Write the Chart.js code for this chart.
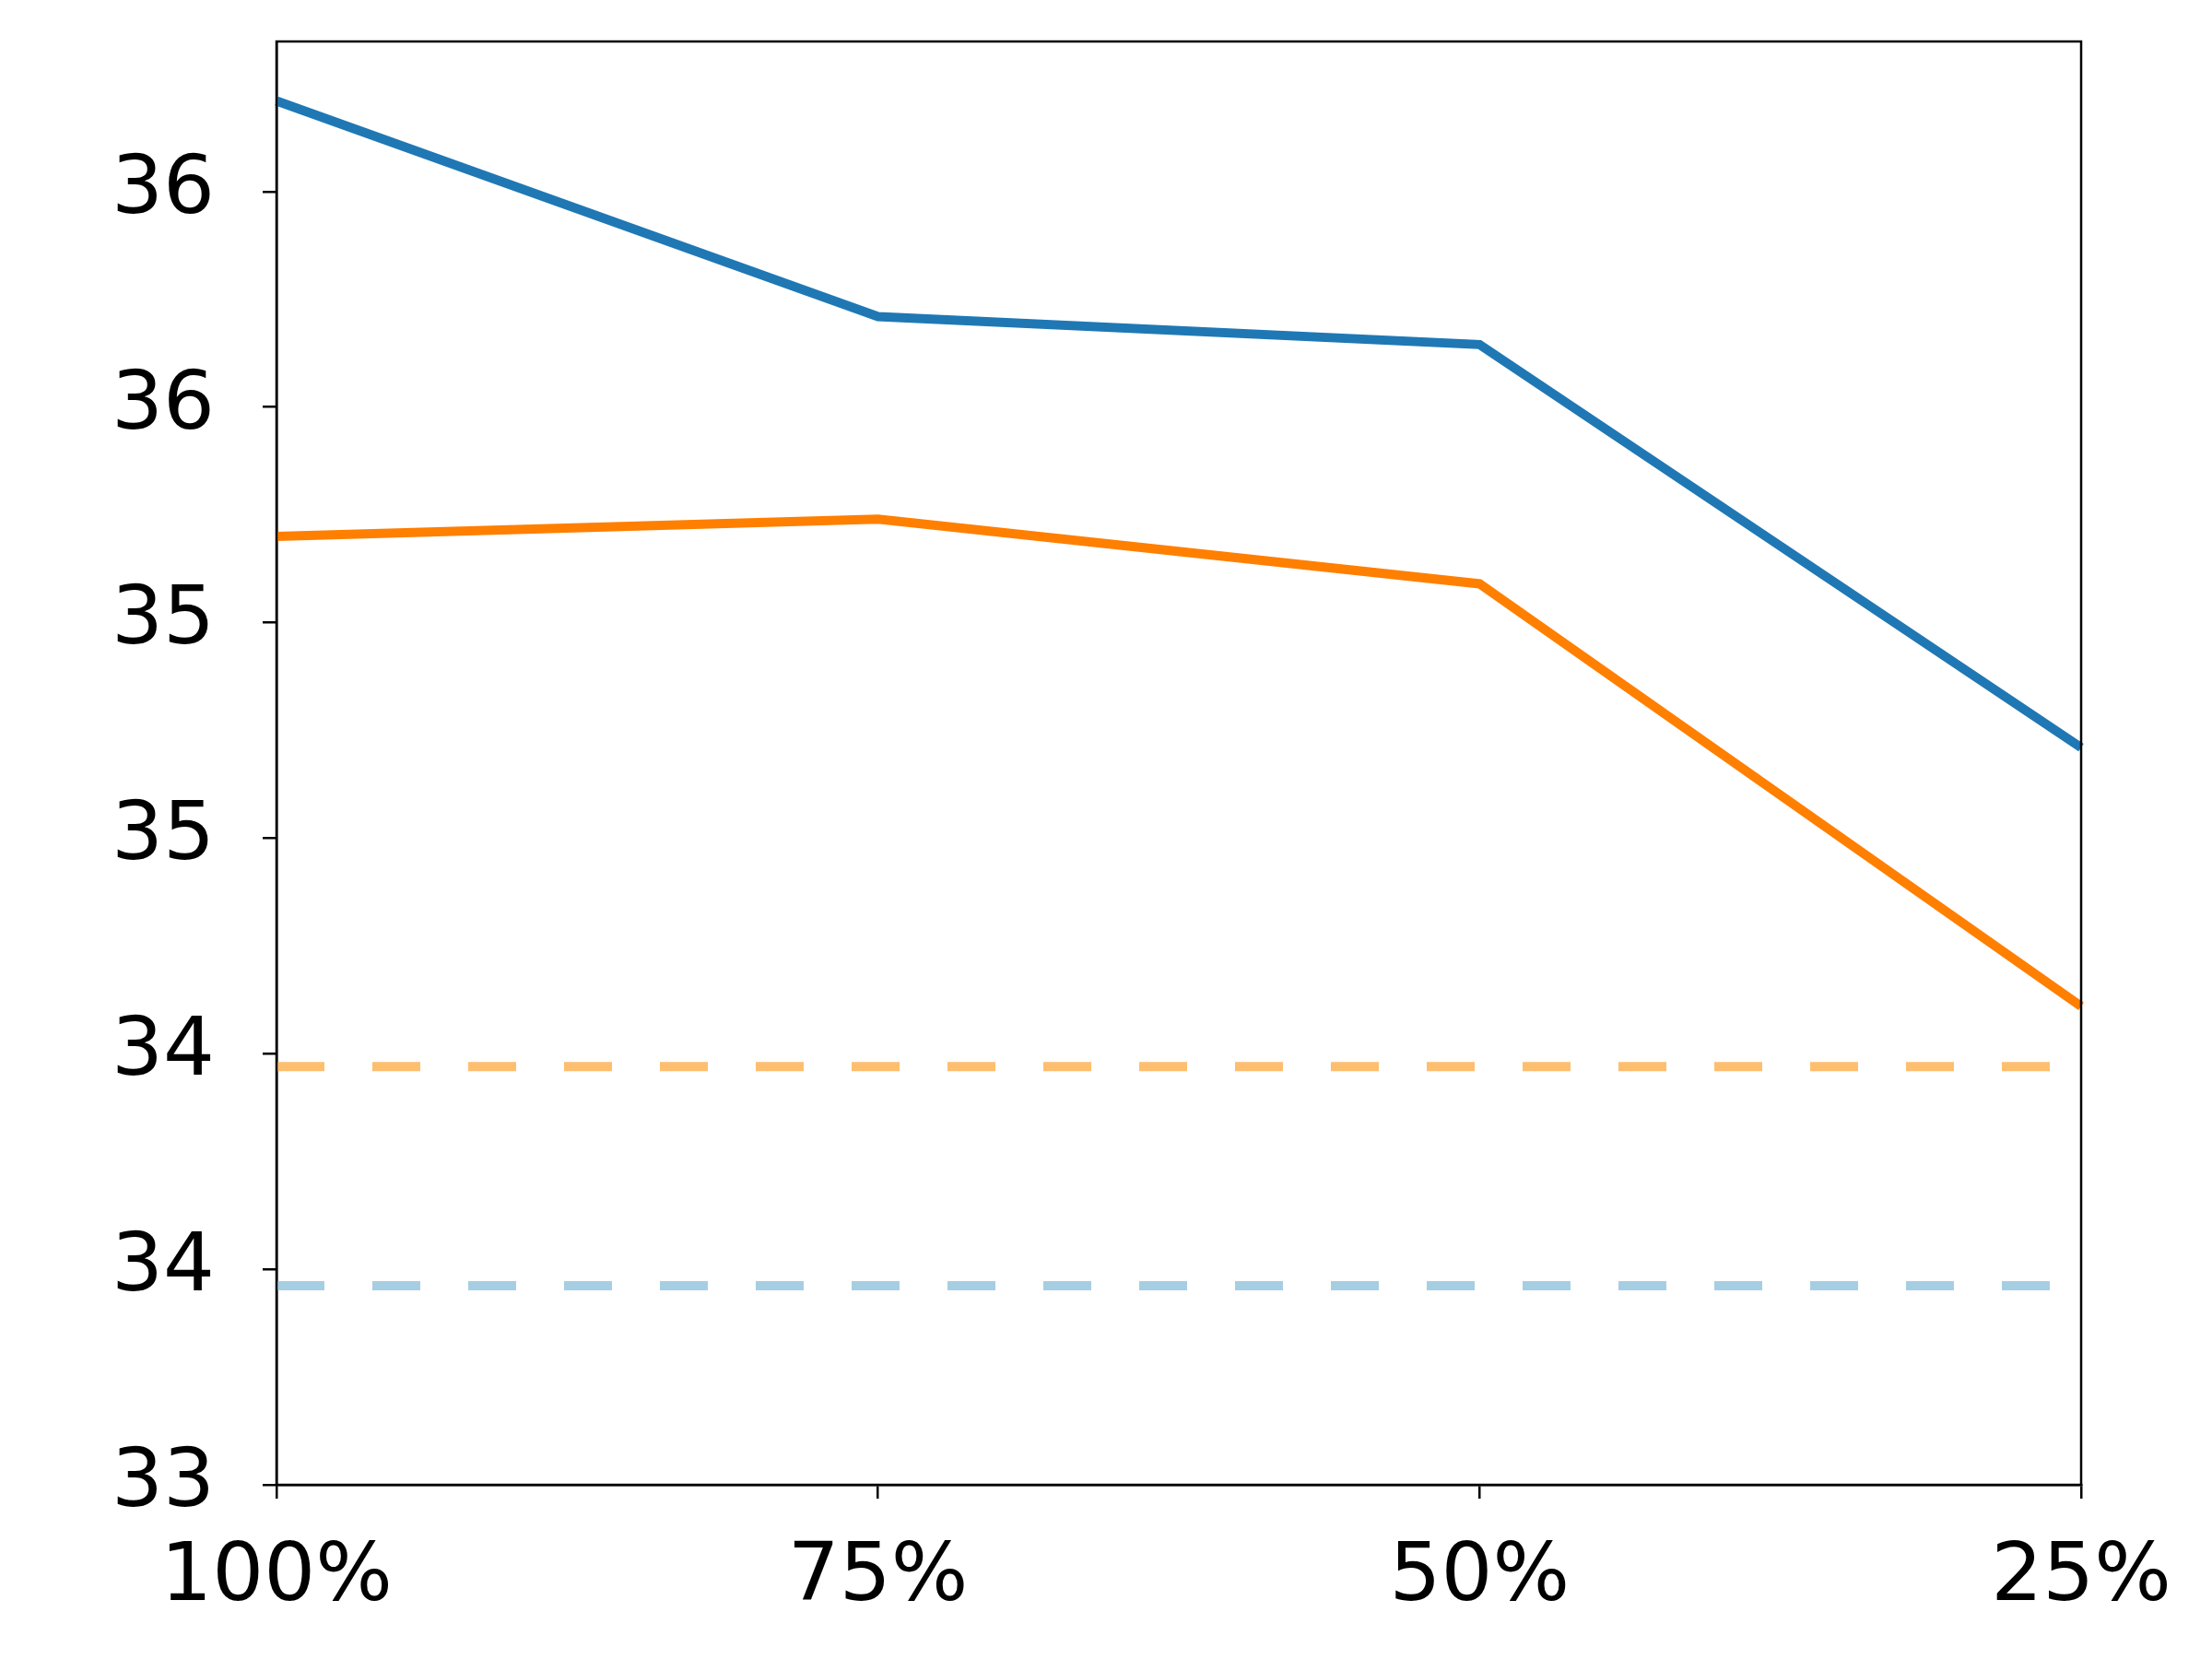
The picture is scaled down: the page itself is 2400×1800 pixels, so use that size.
<!DOCTYPE html>
<html>
<head>
<meta charset="utf-8">
<title>chart</title>
<script src="https://cdn.jsdelivr.net/npm/chart.js@4.4.1/dist/chart.umd.min.js"></script>
<style>
  html, body { margin: 0; padding: 0; background: #fff; }
  canvas { display: block; }
</style>
</head>
<body>
<canvas id="myChart" width="2400" height="1800"></canvas>
<script>
// data
const categories = ['100%', '75%', '50%', '25%'];
const blueSeries = [36.21, 35.71, 35.645, 34.71];
const orangeSeries = [35.2, 35.24, 35.09, 34.11];
const orangeBaseline = [33.97, 33.97, 33.97, 33.97];
const blueBaseline = [33.462, 33.462, 33.462, 33.462];
const yTickValues = [33, 33.5, 34, 34.5, 35, 35.5, 36];
const yTickLabels = ['33', '34', '34', '35', '35', '36', '36'];

const frame = {
  id: 'frame',
  afterDraw(chart) {
    const a = chart.chartArea;
    const c = chart.ctx;
    c.save();
    c.strokeStyle = '#000';
    c.lineWidth = 2.5;
    c.strokeRect(a.left, a.top, a.right - a.left, a.bottom - a.top);
    c.restore();
  },
};

// keep the axes from adding their own label padding to the layout
function noPad(scale) {
  scale.paddingTop = 0;
  scale.paddingBottom = 0;
  scale.paddingLeft = 0;
  scale.paddingRight = 0;
}

const ctx = document.getElementById('myChart').getContext('2d');
const myChart = new Chart(ctx, {
  type: 'line',
  data: {
    labels: categories,
    datasets: [
      {
        data: orangeBaseline,
        borderColor: '#fdbf6f',
        borderWidth: 10,
        borderDash: [52, 52],
        pointRadius: 0,
      },
      {
        data: blueBaseline,
        borderColor: '#a6cee3',
        borderWidth: 10,
        borderDash: [52, 52],
        pointRadius: 0,
      },
      {
        data: orangeSeries,
        borderColor: '#ff7f00',
        borderWidth: 10,
        pointRadius: 0,
      },
      {
        data: blueSeries,
        borderColor: '#1f78b4',
        borderWidth: 10,
        pointRadius: 0,
      },
    ],
  },
  options: {
    responsive: false,
    devicePixelRatio: 1,
    animation: false,
    layout: { padding: { top: 45, right: 142, left: 0, bottom: 0 } },
    plugins: { legend: { display: false }, tooltip: { enabled: false } },
    scales: {
      x: {
        type: 'category',
        offset: false,
        afterFit: (scale) => { scale.height = 189; noPad(scale); },
        grid: { drawOnChartArea: false, drawTicks: true, tickLength: 15, color: '#000', lineWidth: 2.5 },
        border: { display: true, color: '#000', width: 2.5 },
        ticks: {
          color: '#000',
          padding: 34,
          maxRotation: 0,
          font: { family: 'DejaVu Sans', size: 88 },
        },
      },
      y: {
        min: 33,
        max: 36.348,
        afterFit: (scale) => { scale.width = 300; noPad(scale); },
        afterBuildTicks: (scale) => {
          scale.ticks = yTickValues.map((v) => ({ value: v }));
        },
        grid: { drawOnChartArea: false, drawTicks: true, tickLength: 15, color: '#000', lineWidth: 2.5 },
        border: { display: true, color: '#000', width: 2.5 },
        ticks: {
          color: '#000',
          padding: 52,
          font: { family: 'DejaVu Sans', size: 88 },
          callback: (value, index) => yTickLabels[index],
        },
      },
    },
  },
  plugins: [frame],
});
</script>
</body>
</html>
